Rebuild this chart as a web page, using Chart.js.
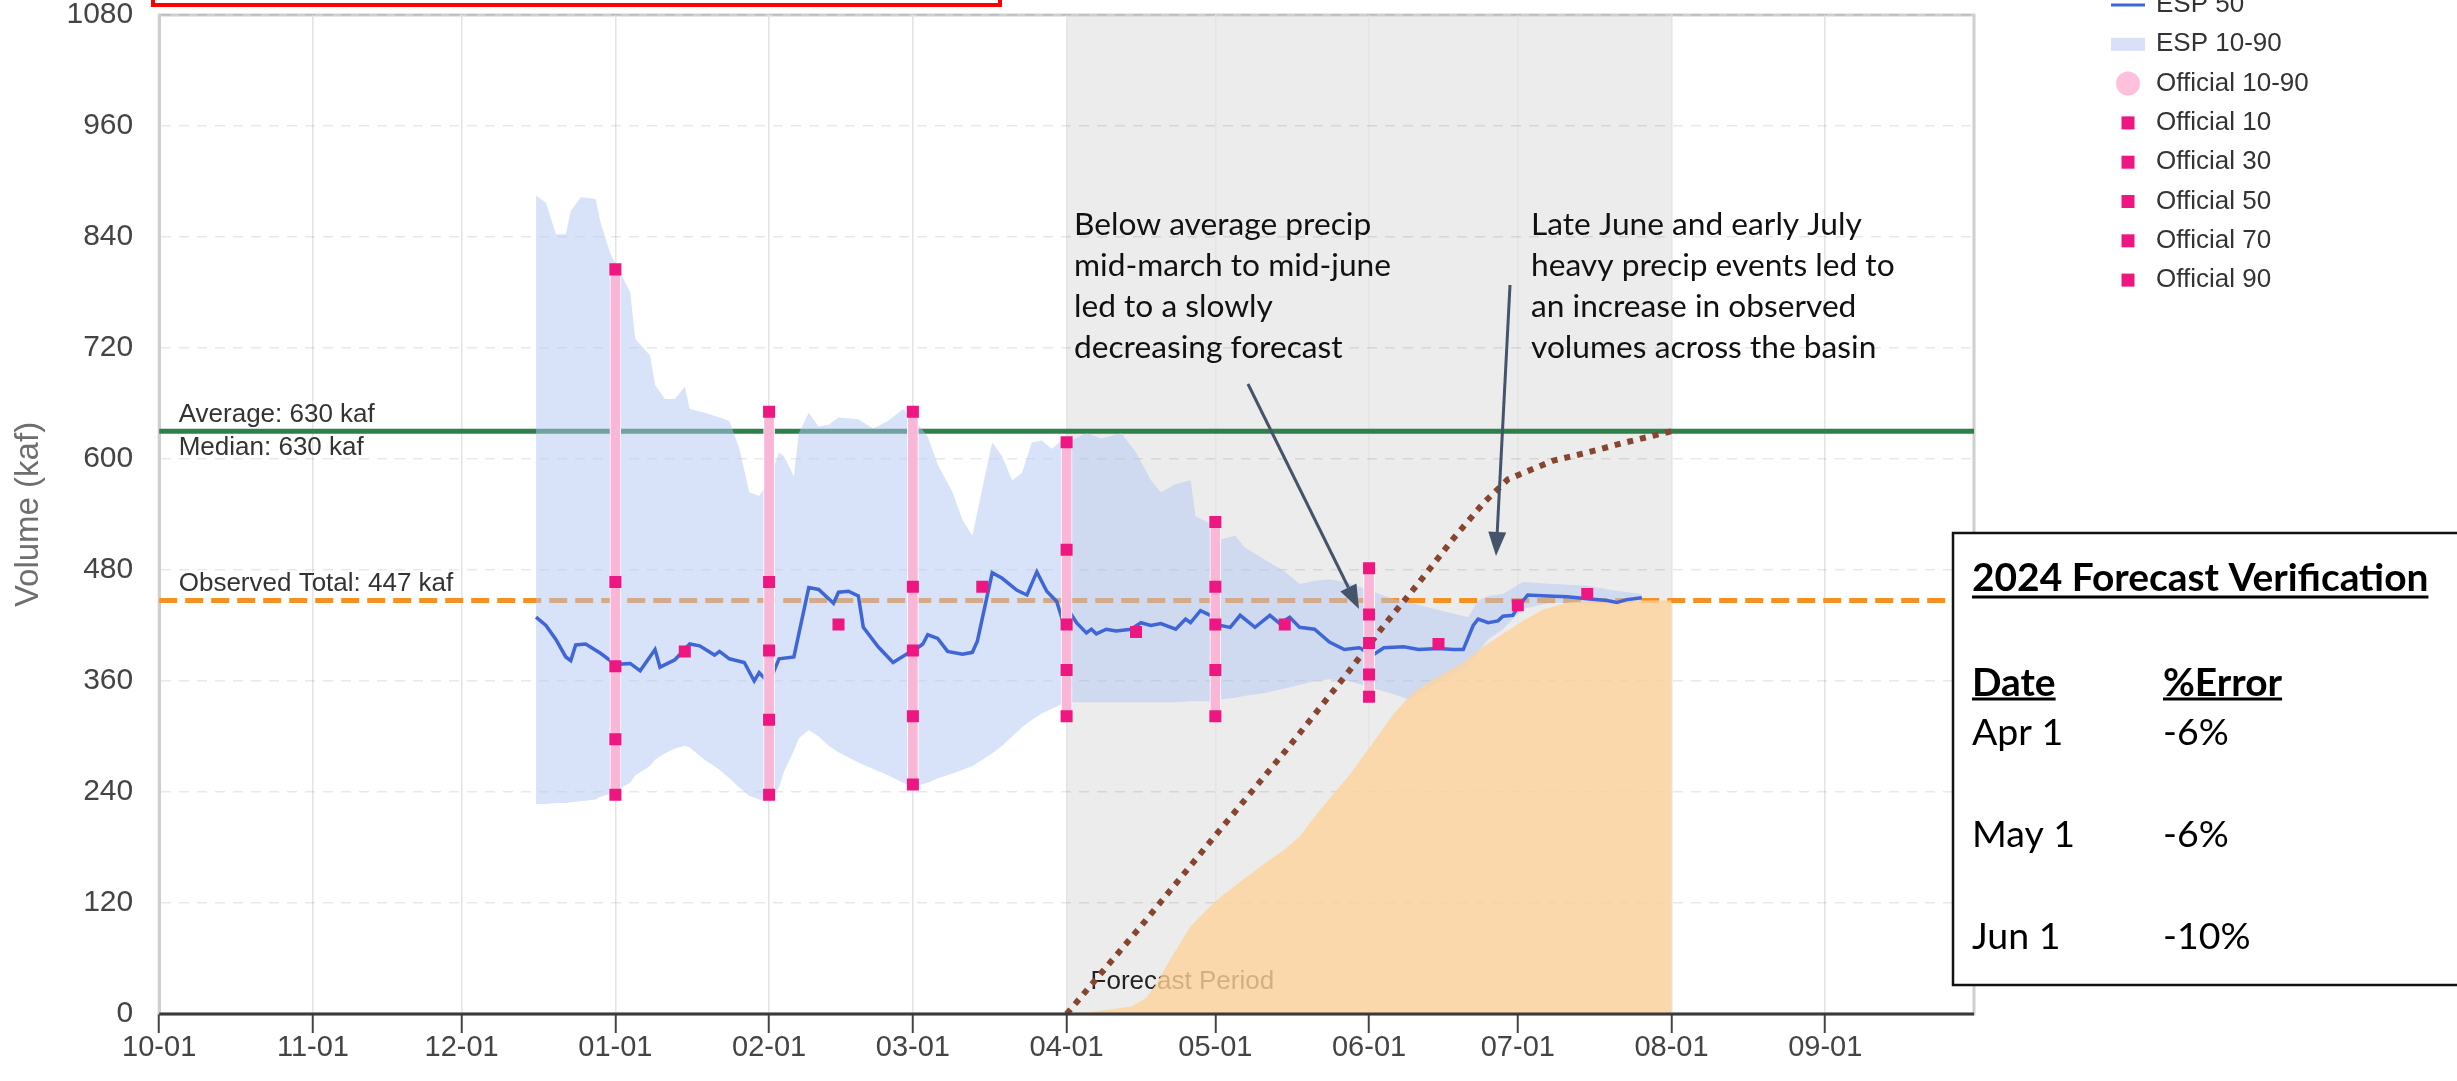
<!DOCTYPE html>
<html>
<head>
<meta charset="utf-8">
<title>2024 Forecast Verification</title>
<script src="https://cdn.jsdelivr.net/npm/chart.js@4.4.1/dist/chart.umd.min.js"></script>
<style>
  html, body { margin: 0; padding: 0; background: #fff; }
  canvas { display: block; }
</style>
</head>
<body>
<canvas id="volumeChart" width="2457" height="1081"></canvas>
<script>
// x values are days since the start of the water year (2023-10-01)
const monthTicks = ["10-01", "11-01", "12-01", "01-01", "02-01", "03-01", "04-01", "05-01", "06-01", "07-01", "08-01", "09-01"];
const tickLabels = ["10-01", "11-01", "12-01", "01-01", "02-01", "03-01", "04-01", "05-01", "06-01", "07-01", "08-01", "09-01"];
const volumeTicks = [0, 120, 240, 360, 480, 600, 720, 840, 960, 1080];

// ESP 50 (median ensemble forecast)
const espDates = ["12-16", "12-18", "12-20", "12-22", "12-23", "12-24", "12-26", "12-29", "01-01", "01-04",
  "01-06", "01-09", "01-10", "01-13", "01-16", "01-18", "01-21", "01-22", "01-24", "01-27",
  "01-29", "01-30", "02-01", "02-03", "02-06", "02-09", "02-11", "02-14", "02-15", "02-17",
  "02-19", "02-20", "02-23", "02-26", "02-29", "03-01", "03-03", "03-04", "03-06", "03-08",
  "03-11", "03-13", "03-14", "03-17", "03-19", "03-22", "03-24", "03-26", "03-28", "03-30",
  "03-31", "04-01", "04-03", "04-05", "04-06", "04-07", "04-09", "04-11", "04-14", "04-16",
  "04-18", "04-20", "04-23", "04-25", "04-26", "04-28", "04-30", "05-02", "05-04", "05-06",
  "05-09", "05-12", "05-14", "05-16", "05-18", "05-21", "05-24", "05-27", "05-30", "06-02",
  "06-04", "06-08", "06-11", "06-15", "06-18", "06-20", "06-22", "06-23", "06-25", "06-27",
  "06-28", "06-30", "07-01", "07-03", "07-07", "07-11", "07-15", "07-19", "07-21", "07-23", "07-26"];
const esp50 = [429, 420, 405, 386, 382, 399, 400, 390, 378, 379,
  371, 394, 375, 383, 400, 398, 388, 392, 384, 380,
  360, 369, 358, 384, 386, 461, 459, 444, 456, 457,
  452, 418, 397, 380, 390, 392, 400, 410, 406, 392,
  389, 391, 403, 477, 471, 458, 453, 478, 457, 446,
  429, 440, 423, 412, 416, 411, 416, 414, 416, 423,
  420, 422, 416, 427, 423, 436, 431, 420, 418, 431,
  418, 431, 422, 429, 418, 416, 402, 394, 396, 389,
  396, 397, 394, 395, 394, 394, 420, 427, 423, 425,
  430, 431, 440, 453, 452, 451, 449, 447, 445, 448, 450];

// ESP 10-90 range
const bandDates = ["12-16", "12-18", "12-20", "12-22", "12-23", "12-25", "12-28", "12-29", "12-31", "01-01",
  "01-04", "01-05", "01-08", "01-09", "01-11", "01-13", "01-15", "01-16", "01-19", "01-22",
  "01-24", "01-26", "01-28", "01-30", "02-01", "02-03", "02-04", "02-06", "02-07", "02-09",
  "02-11", "02-13", "02-15", "02-19", "02-22", "02-25", "02-28", "03-01", "03-04", "03-06",
  "03-09", "03-11", "03-13", "03-15", "03-17", "03-19", "03-21", "03-23", "03-25", "03-27",
  "03-29", "03-31", "04-02", "04-05", "04-08", "04-12", "04-15", "04-18", "04-20", "04-23",
  "04-26", "04-27", "04-30", "05-02", "05-05", "05-07", "05-11", "05-15", "05-18", "05-21",
  "05-24", "05-28", "06-02", "06-07", "06-09", "06-14", "06-21", "06-23", "06-25", "06-28",
  "07-02", "07-08", "07-15", "07-20", "07-26"];
const esp90 = [885, 877, 843, 843, 868, 883, 881, 856, 822, 812,
  780, 730, 712, 680, 665, 665, 678, 654, 650, 645,
  641, 611, 564, 560, 577, 607, 603, 581, 628, 650,
  635, 637, 645, 643, 633, 641, 654, 645, 624, 594,
  564, 534, 517, 568, 618, 603, 577, 585, 618, 620,
  611, 620, 620, 628, 622, 628, 607, 577, 564, 573,
  577, 538, 530, 513, 517, 504, 491, 478, 465, 468,
  470, 466, 456, 447, 445, 438, 429, 447, 452, 454,
  467, 465, 463, 458, 454];
const esp10 = [227, 227, 228, 228, 229, 230, 232, 235, 238, 241,
  250, 258, 268, 275, 282, 287, 290, 288, 275, 264,
  255, 245, 236, 232, 230, 245, 262, 285, 298, 307,
  300, 290, 283, 272, 265, 258, 250, 246, 250, 255,
  260, 264, 268, 275, 282, 290, 300, 310, 318, 325,
  330, 335, 337, 337, 337, 337, 337, 337, 337, 337,
  338, 338, 338, 340, 342, 344, 347, 352, 356, 360,
  362, 360, 352, 344, 340, 356, 376, 392, 405, 416,
  438, 445, 443, 444, 445];

// official coordinated forecasts, first of the month
const officialDates = ["01-01", "02-01", "03-01", "04-01", "05-01", "06-01"];
const official10 = [237, 237, 248, 322, 322, 343];
const official30 = [297, 318, 322, 372, 372, 367];
const official50 = [376, 393, 393, 421, 421, 401];
const official70 = [467, 467, 462, 502, 462, 432];
const official90 = [805, 651, 651, 618, 532, 482];
// mid-month updates (50% only)
const midDates = ["01-15", "02-15", "03-15", "04-15", "05-15", "06-15", "07-01", "07-15"];
const mid50 = [392, 421, 462, 413, 421, 400, 442, 454];

// observed accumulated volume
const observedDates = ["04-01", "04-07", "04-14", "04-17", "04-19", "04-22", "04-26", "05-01", "05-06", "05-11", "05-15",
  "05-18", "05-22", "05-28", "06-02", "06-06", "06-10", "06-14", "06-20", "06-24", "06-28",
  "07-02", "07-06", "07-11", "07-17", "08-01"];
const observed = [0, 3, 8, 17, 32, 60, 95, 122, 143, 163, 178,
  192, 220, 258, 295, 325, 348, 362, 380, 397, 411,
  425, 437, 445, 447, 447];

// normal accumulation over the forecast period
const normalDates = ["04-01", "04-16", "05-01", "05-16", "05-28", "06-04", "06-11", "06-18", "06-24", "06-29",
  "07-08", "07-15", "07-22", "08-01"];
const normalAccum = [0, 95, 193, 290, 371, 420, 466, 514, 552, 578, 598, 607, 617, 630];

const averageVolume = 630;
const medianVolume = 630;
const observedTotal = 447;
const forecastStart = "04-01";
const forecastEnd = "08-01";

const verifyRows = [["Apr 1", "-6%"], ["May 1", "-6%"], ["Jun 1", "-10%"]];
const legendItems = [["ESP 50", "line"], ["ESP 10-90", "band"], ["Official 10-90", "circle"],
  ["Official 10", "rect"], ["Official 30", "rect"], ["Official 50", "rect"], ["Official 70", "rect"], ["Official 90", "rect"]];

const wyStart = Date.UTC(2023, 9, 1);
function day(md) {
  const [m, d] = md.split("-").map(Number);
  const year = m >= 10 ? 2023 : 2024;
  return (Date.UTC(year, m - 1, d) - wyStart) / 86400000;
}
const pts = (dates, vals) => dates.map((d, i) => ({ x: day(d), y: vals[i] }));

const markerPink = "#ee1680";
const barPink = "#f9b6d7";
const bandBlue = "rgba(177, 197, 243, 0.5)";
const espBlue = "#3e66d6";

function fitFont(ctx, text, width, weight, family) {
  ctx.font = weight + " 40px " + family;
  const size = 40 * width / ctx.measureText(text).width;
  return weight + " " + size.toFixed(1) + "px " + family;
}

function arrow(ctx, x1, y1, x2, y2) {
  const ang = Math.atan2(y2 - y1, x2 - x1);
  const len = 24, half = 9;
  const bx = x2 - len * Math.cos(ang), by = y2 - len * Math.sin(ang);
  ctx.beginPath();
  ctx.moveTo(x1, y1);
  ctx.lineTo(bx, by);
  ctx.stroke();
  ctx.beginPath();
  ctx.moveTo(x2, y2);
  ctx.lineTo(bx + half * Math.sin(ang), by - half * Math.cos(ang));
  ctx.lineTo(bx - half * Math.sin(ang), by + half * Math.cos(ang));
  ctx.closePath();
  ctx.fill();
}

const overlay = {
  id: "overlay",
  beforeDraw(chart) {
    const { ctx, chartArea: a, scales: { x } } = chart;
    ctx.save();
    // forecast period shading
    const x0 = x.getPixelForValue(day(forecastStart));
    const x1 = x.getPixelForValue(day(forecastEnd));
    ctx.fillStyle = "#ececec";
    ctx.fillRect(x0, a.top, x1 - x0, a.bottom - a.top);
    // plot frame
    ctx.strokeStyle = "#cfcfcf";
    ctx.lineWidth = 3;
    ctx.strokeRect(a.left, a.top, a.right - a.left, a.bottom - a.top);
    // red highlight box along the top
    ctx.strokeStyle = "#ff0000";
    ctx.lineWidth = 4;
    ctx.strokeRect(153, -20, 847, 25);
    ctx.restore();
  },
  beforeDatasetsDraw(chart) {
    const { ctx, chartArea: a, scales: { x, y } } = chart;
    ctx.save();
    const yAvg = y.getPixelForValue(averageVolume);
    const yObs = y.getPixelForValue(observedTotal);
    ctx.strokeStyle = "#2f7f4b";
    ctx.lineWidth = 5;
    ctx.beginPath();
    ctx.moveTo(a.left, yAvg);
    ctx.lineTo(a.right, yAvg);
    ctx.stroke();
    ctx.strokeStyle = "#f59120";
    ctx.setLineDash([18, 8]);
    ctx.beginPath();
    ctx.moveTo(a.left, yObs);
    ctx.lineTo(a.right, yObs);
    ctx.stroke();
    ctx.setLineDash([]);

    ctx.font = "26px 'Liberation Sans', Arial, sans-serif";
    ctx.fillStyle = "#333";
    ctx.textBaseline = "middle";
    ctx.fillText("Average: " + averageVolume + " kaf", a.left + 19.5, yAvg - 16.5);
    ctx.fillText("Median: " + medianVolume + " kaf", a.left + 19.5, yAvg + 16.5);
    ctx.fillText("Observed Total: " + observedTotal + " kaf", a.left + 19.5, yObs - 16.5);
    ctx.fillStyle = "#222";
    ctx.fillText("Forecast Period", x.getPixelForValue(day(forecastStart)) + 24, a.bottom - 32);
    ctx.restore();
  },
  afterDatasetsDraw(chart) {
    const { ctx, chartArea: a } = chart;
    ctx.save();
    ctx.strokeStyle = "#3a3a3a";
    ctx.lineWidth = 3;
    ctx.beginPath();
    ctx.moveTo(a.left, a.bottom);
    ctx.lineTo(a.right, a.bottom);
    ctx.stroke();
    ctx.restore();
  },
  afterDraw(chart) {
    const { ctx } = chart;
    ctx.save();

    // legend
    ctx.font = "26px 'Liberation Sans', Arial, sans-serif";
    ctx.textBaseline = "middle";
    legendItems.forEach(([label, kind], i) => {
      const cy = 5 + i * 39.3;
      if (kind === "line") {
        ctx.strokeStyle = espBlue;
        ctx.lineWidth = 3;
        ctx.beginPath();
        ctx.moveTo(2111, cy);
        ctx.lineTo(2145, cy);
        ctx.stroke();
      } else if (kind === "band") {
        ctx.fillStyle = "#d9e0f7";
        ctx.fillRect(2111, cy - 6.5, 34, 13);
      } else if (kind === "circle") {
        ctx.fillStyle = "#ffc0dd";
        ctx.beginPath();
        ctx.arc(2128, cy, 12, 0, Math.PI * 2);
        ctx.fill();
      } else {
        ctx.fillStyle = markerPink;
        ctx.fillRect(2121.5, cy - 6.5, 13, 13);
      }
      ctx.fillStyle = "#333";
      ctx.fillText(label, 2156, cy);
    });

    // annotations
    ctx.font = fitFont(ctx, "Below average precip", 297, "normal", "Lato");
    ctx.fillStyle = "#111";
    const leftNote = ["Below average precip", "mid-march to mid-june", "led to a slowly", "decreasing forecast"];
    const rightNote = ["Late June and early July", "heavy precip events led to", "an increase in observed", "volumes across the basin"];
    leftNote.forEach((t, i) => ctx.fillText(t, 1074, 225 + i * 41));
    rightNote.forEach((t, i) => ctx.fillText(t, 1531, 225 + i * 41));
    ctx.strokeStyle = "#44546a";
    ctx.fillStyle = "#44546a";
    ctx.lineWidth = 3;
    arrow(ctx, 1248, 384, 1359, 609);
    arrow(ctx, 1510, 285, 1496, 556);

    // verification table
    ctx.fillStyle = "#fff";
    ctx.fillRect(1953, 533, 520, 452);
    ctx.strokeStyle = "#111";
    ctx.lineWidth = 2.5;
    ctx.strokeRect(1953, 533, 520, 452);
    const boldFont = fitFont(ctx, "2024 Forecast Verification", 457, "bold", "Lato");
    const plainFont = fitFont(ctx, "May 1", 103, "normal", "Lato");
    ctx.fillStyle = "#000";
    ctx.strokeStyle = "#000";
    ctx.lineWidth = 3;
    const underlined = (t, x, y, off) => {
      ctx.fillText(t, x, y);
      const w = ctx.measureText(t).width;
      ctx.beginPath();
      ctx.moveTo(x, y + off);
      ctx.lineTo(x + w, y + off);
      ctx.stroke();
    };
    ctx.font = boldFont;
    underlined("2024 Forecast Verification", 1972, 578, 19);
    underlined("Date", 1972, 683, 16);
    underlined("%Error", 2163, 683, 16);
    ctx.font = plainFont;
    verifyRows.forEach(([d, e], i) => {
      const cy = 733 + i * 102;
      ctx.fillText(d, 1972, cy);
      ctx.fillText(e, 2163, cy);
    });
    ctx.restore();
  }
};

Chart.defaults.font.family = "'Liberation Sans', Arial, sans-serif";
Chart.defaults.color = "#444";

const ctx = document.getElementById("volumeChart").getContext("2d");
new Chart(ctx, {
  type: "line",
  data: {
    datasets: [
      { label: "Official 10", data: pts(officialDates, official10) },
      { label: "Official 30", data: pts(officialDates, official30) },
      { label: "Official 50", data: pts(officialDates, official50).concat(pts(midDates, mid50)) },
      { label: "Official 70", data: pts(officialDates, official70) },
      { label: "Official 90", data: pts(officialDates, official90) }
    ].map((d) => Object.assign(d, {
      showLine: false,
      pointStyle: "rect",
      pointRadius: 8.5,
      pointBackgroundColor: markerPink,
      pointBorderWidth: 0,
      order: 0
    })).concat([
      {
        label: "Official 10-90",
        type: "bar",
        data: officialDates.map((d, i) => ({ x: day(d), y: [official10[i], official90[i]] })),
        backgroundColor: barPink,
        borderColor: "#ffffff",
        borderWidth: 1,
        borderSkipped: false,
        barThickness: 11,
        order: 1
      },
      {
        label: "ESP 50",
        data: pts(espDates, esp50),
        borderColor: espBlue,
        borderWidth: 3.5,
        pointRadius: 0,
        order: 2
      },
      {
        label: "Normal",
        data: pts(normalDates, normalAccum),
        borderColor: "#874530",
        borderWidth: 6,
        borderDash: [6, 7],
        pointRadius: 0,
        order: 3
      },
      {
        label: "Observed",
        data: pts(observedDates, observed),
        fill: "origin",
        backgroundColor: "rgba(254, 211, 156, 0.8)",
        borderColor: "transparent",
        pointRadius: 0,
        order: 4
      },
      {
        label: "ESP 10-90",
        data: pts(bandDates, esp90),
        fill: "+1",
        backgroundColor: bandBlue,
        borderColor: "transparent",
        pointRadius: 0,
        order: 5
      },
      {
        label: "ESP 10",
        data: pts(bandDates, esp10),
        fill: false,
        borderColor: "transparent",
        pointRadius: 0,
        order: 6
      }
    ])
  },
  options: {
    responsive: false,
    animation: false,
    devicePixelRatio: 1,
    layout: { padding: { left: 0, right: 483, top: 15, bottom: 0 } },
    plugins: {
      legend: { display: false },
      tooltip: { enabled: false }
    },
    scales: {
      x: {
        type: "linear",
        min: 0,
        max: 366,
        offset: false,
        afterBuildTicks: (scale) => {
          scale.ticks = monthTicks.map((m) => ({ value: day(m) }));
        },
        afterFit: (scale) => { scale.height = 67; },
        ticks: {
          autoSkip: false,
          maxRotation: 0,
          padding: 0,
          color: "#444",
          font: { size: 29, lineHeight: 1.0 },
          callback: (v, i) => tickLabels[i]
        },
        grid: {
          offset: false,
          color: "#e4e4e4",
          lineWidth: 1.5,
          tickColor: "#444",
          tickLength: 19,
          tickWidth: 2
        },
        border: { display: false }
      },
      y: {
        min: 0,
        max: 1080,
        afterBuildTicks: (scale) => {
          scale.ticks = volumeTicks.map((v) => ({ value: v }));
        },
        afterFit: (scale) => {
          scale.width = 159.2;
          scale.paddingTop = 0;
          scale.paddingBottom = 0;
        },
        ticks: {
          padding: 26,
          color: "#444",
          font: { size: 30 },
          callback: (v) => String(v)
        },
        grid: {
          drawTicks: false,
          color: "rgba(0, 0, 0, 0.09)",
          lineWidth: 1.5
        },
        border: { display: true, color: "#cfcfcf", width: 3, dash: [10, 8] },
        title: {
          display: true,
          text: "Volume (kaf)",
          color: "#6e6e6e",
          font: { size: 33 },
          padding: { top: 9, bottom: 0 }
        }
      }
    }
  },
  plugins: [overlay]
});
</script>
</body>
</html>
